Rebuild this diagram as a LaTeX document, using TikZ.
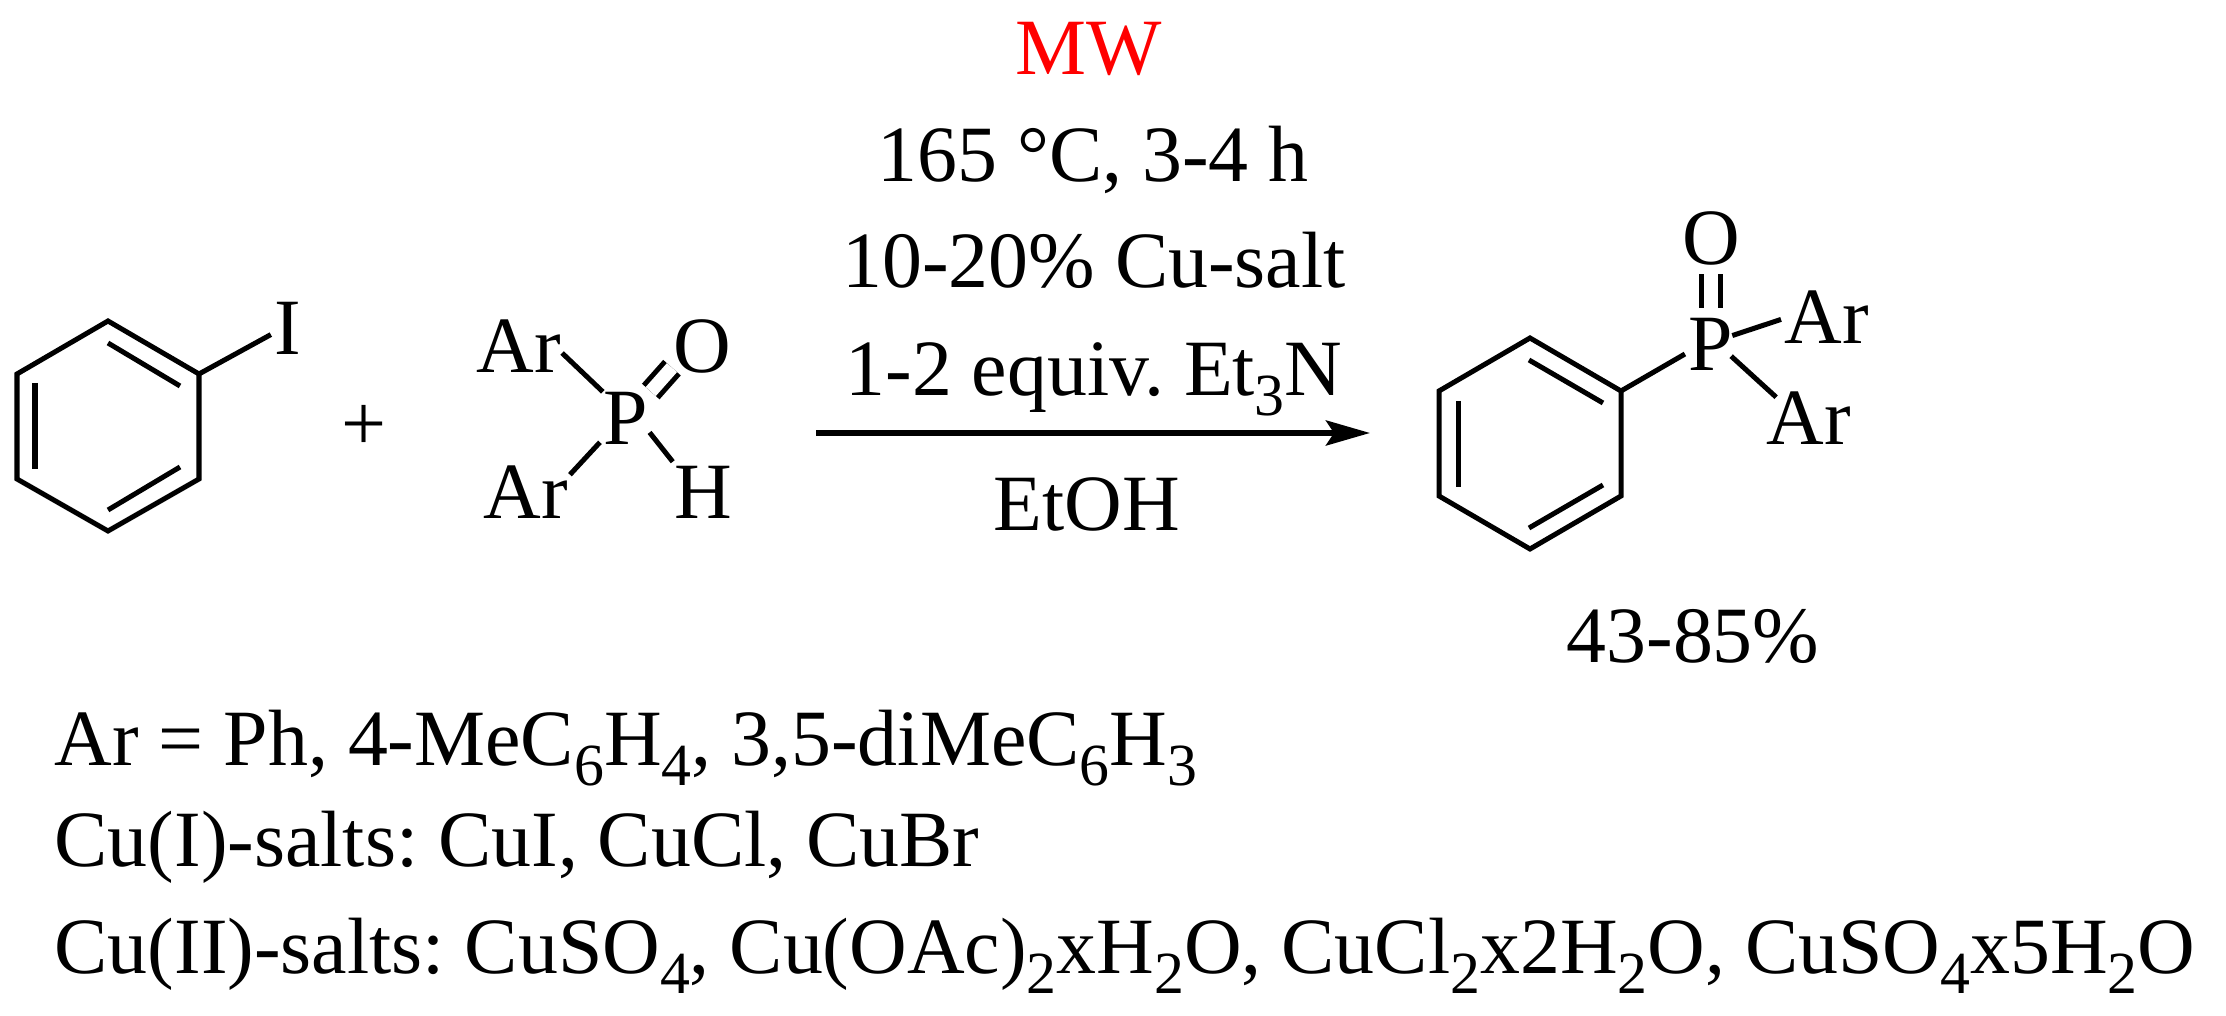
\documentclass[tikz,border=0pt]{standalone}
\usepackage{fontspec}
\usetikzlibrary{arrows.meta}
\setmainfont{Liberation Serif}
\begin{document}
\frenchspacing
\begin{tikzpicture}[x=0.01cm,y=-0.01cm]
	\def\sbs#1{\raisebox{-0.24em}{\fontsize{17}{17}\selectfont #1}}
	\tikzset{txt/.style={anchor=base,inner sep=0,font=\fontsize{22.7}{27}\selectfont}}
	\tikzset{left/.style={txt,anchor=base west}}
	\tikzset{atom/.style={inner sep=0,outer sep=1.1pt,text height=15pt,text depth=0pt,font=\fontsize{22.7}{27}\selectfont}}
	\tikzset{bond/.style={line width=0.05cm}}
	\tikzset{dbl/.style={bond,double,double distance=0.135cm}}
	\useasboundingbox(0,0)rectangle(2226,1016);
	% reagent ring
	\path(108,321)coordinate(a1)(199,374)coordinate(a2)(199,479)coordinate(a3)(108,531)coordinate(a4)(17,479)coordinate(a5)(17,374)coordinate(a6);
	\path(108,343)coordinate(ai1)(180,386)coordinate(ai2)(35,383)coordinate(ai3)(35,469)coordinate(ai4)(108,510)coordinate(ai5)(180,467)coordinate(ai6);
	\draw[bond,line join=miter](a1)--(a2)--(a3)--(a4)--(a5)--(a6)--cycle;
	% product ring
	\path(1530,338)coordinate(b1)(1621,391)coordinate(b2)(1621,496)coordinate(b3)(1530,549)coordinate(b4)(1439,496)coordinate(b5)(1439,391)coordinate(b6);
	\path(1529,360)coordinate(bi1)(1603,403)coordinate(bi2)(1458,401)coordinate(bi3)(1458,487)coordinate(bi4)(1529,528)coordinate(bi5)(1603,485)coordinate(bi6);
	\draw[bond,line join=miter](b1)--(b2)--(b3)--(b4)--(b5)--(b6)--cycle;
	\foreach \x/\y in {
		ai1/ai2,ai3/ai4,ai5/ai6,
		bi1/bi2,bi3/bi4,bi5/bi6}
	\draw[bond](\x)--(\y);
	% atoms
	\node[atom](I1)at(288,328){I};
	\node[atom](Ar1)at(519,346){Ar};
	\node[atom](Ar2)at(526,492){Ar};
	\node[atom](P1)at(626,418){P};
	\node[atom](O1)at(702,346){O};
	\node[atom](H1)at(703,492){H};
	\node[atom](P2)at(1711,344){P};
	\node[atom](O2)at(1711,238){O};
	\node[atom](Ar3)at(1827,317){Ar};
	\node[atom](Ar4)at(1809,418){Ar};
	\draw[bond](a2)--(I1.201);
	\draw[bond,shorten <=-0.04cm,shorten >=-0.04cm](Ar1.-12)--(P1.132);
	\draw[bond,shorten <=-0.03cm](Ar2.23)--(P1.223);
	\draw[bond,shorten <=-0.04cm](P1.-34)--(H1.135);
	\draw[dbl,shorten <=-0.02cm,shorten >=-0.04cm](P1.47)--(O1.217);
	\draw[bond](b2)--(P2.201);
	\draw[dbl,shorten <=0.06cm,shorten >=0.06cm](O2.south)--(P2.north);
	\draw[bond,shorten <=-0.05cm](P2.21)--(Ar3.183);
	\draw[bond,shorten <=-0.08cm,shorten >=-0.14cm](P2.-34)--(Ar4.145);
	% plus sign and conditions
	\node[txt](plus)at(364,451){+};
	\path(816,433)coordinate(s)(1370,433)coordinate(e);
	\draw[line width=0.055cm,-{Stealth[length=0.44cm,width=0.25cm,inset=0.08cm]}](s)--(e);
	\node[txt,text=red](mw)at(1089,75){MW};
	\node[txt](temp)at(1093,182){165 °C, 3-4 h};
	\node[txt](cat)at(1094,288){10-20\% Cu-salt};
	\node[txt](base)at(1094,396){1-2 equiv. Et\sbs{3}N};
	\node[txt](solv)at(1087,531){EtOH};
	\node[txt](yield)at(1693,663){43-85\%};
	% footnotes
	\node[left](n1)at(54,766){Ar = Ph, 4-MeC\sbs{6}H\sbs{4}, 3,5-diMeC\sbs{6}H\sbs{3}};
	\node[left](n2)at(54,867){Cu(I)-salts: CuI, CuCl, CuBr};
	\node[left](n3)at(54,974){Cu(II)-salts: CuSO\sbs{4}, Cu(OAc)\sbs{2}xH\sbs{2}O, CuCl\sbs{2}x2H\sbs{2}O, CuSO\sbs{4}x5H\sbs{2}O};
\end{tikzpicture}
\end{document}
